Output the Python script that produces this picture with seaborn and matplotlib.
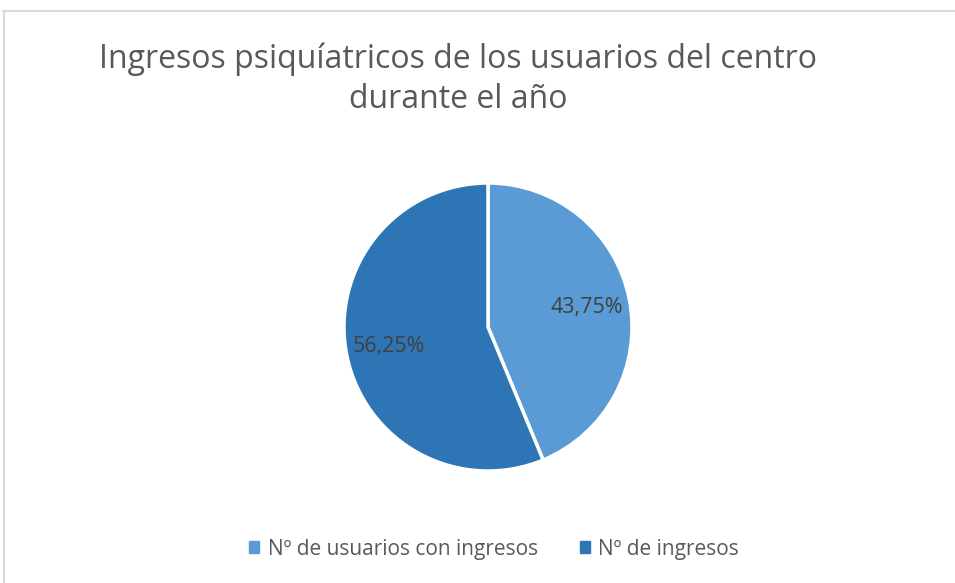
import matplotlib
matplotlib.use("Agg")
import matplotlib.pyplot as plt
from matplotlib.lines import Line2D
from matplotlib.patches import Patch
import seaborn as sns

categorias = ["Nº de usuarios con ingresos", "Nº de ingresos"]
porcentajes = [43.75, 56.25]
colores = ["#5B9BD5", "#2E75B6"]

sns.set_theme(style="white")
plt.rcParams["font.family"] = ["Open Sans", "DejaVu Sans"]

W, H = 955, 583
fig = plt.figure(figsize=(W / 100, H / 100), dpi=100)

# marco del grafico (solo se ven borde superior e izquierdo)
borde = "#d9d9d9"
fig.add_artist(Line2D([3 / W, 1], [1 - 11 / H, 1 - 11 / H], color=borde, lw=1.5))
fig.add_artist(Line2D([4 / W, 4 / W], [0, 1 - 11 / H], color=borde, lw=1.5))

fig.text(458 / W, 1 - 79 / H, "Ingresos psiquíatricos de los usuarios del centro\ndurante el año",
         ha="center", va="center", fontsize=23, color="#595959", linespacing=1.3)

cx, cy, r = 488, 327, 144
ax = fig.add_axes([(cx - r) / W, 1 - (cy + r) / H, 2 * r / W, 2 * r / H])

def etiqueta(p):
    return f"{p:.2f}%".replace(".", ",")

wedges, textos, autotextos = ax.pie(
    porcentajes, colors=colores, startangle=90, counterclock=False,
    autopct=etiqueta, pctdistance=0.7,
    wedgeprops=dict(edgecolor="white", linewidth=2.5),
    textprops=dict(fontsize=15.5, color="#404040"))
ax.set_xlim(-1, 1)
ax.set_ylim(-1, 1)
ax.set_aspect("equal")

handles = [Patch(facecolor=c, edgecolor=c) for c in colores]
fig.legend(handles, categorias, loc="center", bbox_to_anchor=(494 / W, 1 - 549 / H),
           ncol=2, frameon=False, fontsize=15, labelcolor="#595959",
           handlelength=0.5, handleheight=0.5, handletextpad=0.4, columnspacing=2.0)

fig.savefig("out.png", dpi=100)
